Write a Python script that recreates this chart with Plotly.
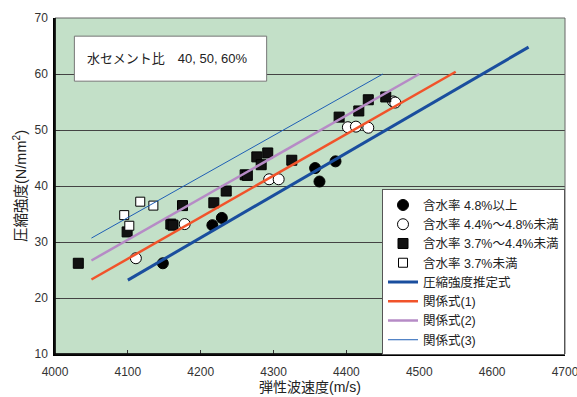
import plotly.graph_objects as go

# Data
fc_x = [4148, 4216, 4229, 4357, 4363, 4385]
fc_y = [26.2, 33.0, 34.3, 43.2, 40.8, 44.4]

oc_x = [4111, 4178, 4294, 4307, 4402, 4413, 4430, 4464, 4467]
oc_y = [27.1, 33.2, 41.2, 41.2, 50.5, 50.6, 50.4, 55.1, 54.9]

fs_x = [4032, 4099, 4159, 4162, 4175, 4218, 4235, 4261, 4264, 4277, 4283, 4292, 4325, 4390, 4417, 4430, 4454]
fs_y = [26.2, 31.8, 33.2, 33.0, 36.5, 37.0, 39.1, 42.0, 41.9, 45.2, 43.8, 45.9, 44.6, 52.3, 53.4, 55.4, 55.9]

os_x = [4095, 4102, 4117, 4135]
os_y = [34.8, 32.9, 37.2, 36.5]

est_x = [4100, 4650]
est_y = [23.2, 64.8]
r1_x = [4050, 4550]
r1_y = [23.3, 60.4]
r2_x = [4050, 4500]
r2_y = [26.7, 60.0]
r3_x = [4050, 4450]
r3_y = [30.7, 60.0]

names = ["含水率 4.8%以上", "含水率 4.4%～4.8%未満", "含水率 3.7%～4.4%未満", "含水率 3.7%未満",
         "圧縮強度推定式", "関係式(1)", "関係式(2)", "関係式(3)"]

x_ticks = [4000, 4100, 4200, 4300, 4400, 4500, 4600, 4700]
y_ticks = [10, 20, 30, 40, 50, 60, 70]

FONT = "Liberation Sans, Arial, Noto Sans CJK JP"

fig = go.Figure()
fig.add_trace(go.Scatter(x=fc_x, y=fc_y, mode="markers", name=names[0],
                         marker=dict(symbol="circle", size=11, color="black", line=dict(color="black", width=1))))
fig.add_trace(go.Scatter(x=oc_x, y=oc_y, mode="markers", name=names[1],
                         marker=dict(symbol="circle", size=11, color="white", line=dict(color="black", width=1))))
fig.add_trace(go.Scatter(x=fs_x, y=fs_y, mode="markers", name=names[2],
                         marker=dict(symbol="square", size=10, color="#111111", line=dict(color="black", width=1))))
fig.add_trace(go.Scatter(x=os_x, y=os_y, mode="markers", name=names[3],
                         marker=dict(symbol="square", size=9, color="white", line=dict(color="black", width=1))))
fig.add_trace(go.Scatter(x=est_x, y=est_y, mode="lines", name=names[4],
                         line=dict(color="#1a4e9e", width=3)))
fig.add_trace(go.Scatter(x=r1_x, y=r1_y, mode="lines", name=names[5],
                         line=dict(color="#f1532a", width=2.5)))
fig.add_trace(go.Scatter(x=r2_x, y=r2_y, mode="lines", name=names[6],
                         line=dict(color="#b68bc6", width=2.5)))
fig.add_trace(go.Scatter(x=r3_x, y=r3_y, mode="lines", name=names[7],
                         line=dict(color="#1f5fb5", width=1)))

fig.update_layout(
    width=577, height=397,
    margin=dict(l=55, r=12, t=18, b=43),
    paper_bgcolor="white",
    plot_bgcolor="#c3e0c8",
    font=dict(family=FONT, size=12, color="#222222"),
    showlegend=True,
    legend=dict(x=1, xanchor="right", y=0.49, yanchor="top",
                bgcolor="white", bordercolor="#555555", borderwidth=1,
                font=dict(size=12.5, color="#222222"), tracegroupgap=0,
                itemwidth=30),
    xaxis=dict(range=[4000, 4700], tickvals=x_ticks, showgrid=False, zeroline=False,
               showline=True, linecolor="black", linewidth=1.5, automargin=False,
               ticks="inside", ticklen=4, tickcolor="#333333",
               ticklabeloverflow="allow", ticklabelstandoff=6,
               tickfont=dict(size=12, color="#333333"),
               title=dict(text="弾性波速度(m/s)", font=dict(size=14, color="#222222"), standoff=3)),
    yaxis=dict(range=[10, 70], tickvals=y_ticks, showgrid=True, gridcolor="#444444", gridwidth=1,
               zeroline=False, showline=True, linecolor="black", linewidth=1.5, automargin=False,
               ticks="inside", ticklen=5, tickcolor="#333333",
               ticklabeloverflow="allow", ticklabelstandoff=3,
               tickfont=dict(size=12, color="#333333"),
               title=dict(text="圧縮強度(N/mm<sup>2</sup>)", font=dict(size=14.5, color="#222222"), standoff=4)),
)

# plot frame (top/right grey border)
fig.add_shape(type="rect", xref="paper", yref="paper", x0=0, y0=0, x1=1, y1=1,
              line=dict(color="#666666", width=1), fillcolor="rgba(0,0,0,0)", layer="above")
# left/bottom black axis lines drawn on top
fig.add_shape(type="line", xref="paper", yref="paper", x0=0, y0=0, x1=0, y1=1,
              line=dict(color="black", width=1.5), layer="above")
fig.add_shape(type="line", xref="paper", yref="paper", x0=0, y0=0, x1=1, y1=0,
              line=dict(color="black", width=1.5), layer="above")

# annotation box
fig.add_shape(type="rect", xref="paper", yref="paper", x0=0.038, y0=0.812, x1=0.415, y1=0.946,
              line=dict(color="#777777", width=1), fillcolor="white", layer="above")
fig.add_annotation(xref="paper", yref="paper", x=0.058, y=0.879, xanchor="left", yanchor="middle",
                   text="水セメント比　40, 50, 60%", showarrow=False,
                   font=dict(size=13, color="#222222"))

fig.write_html("out.html", config={"displayModeBar": False},
               post_script="document.body.style.margin='0';document.body.style.overflow='hidden';")
